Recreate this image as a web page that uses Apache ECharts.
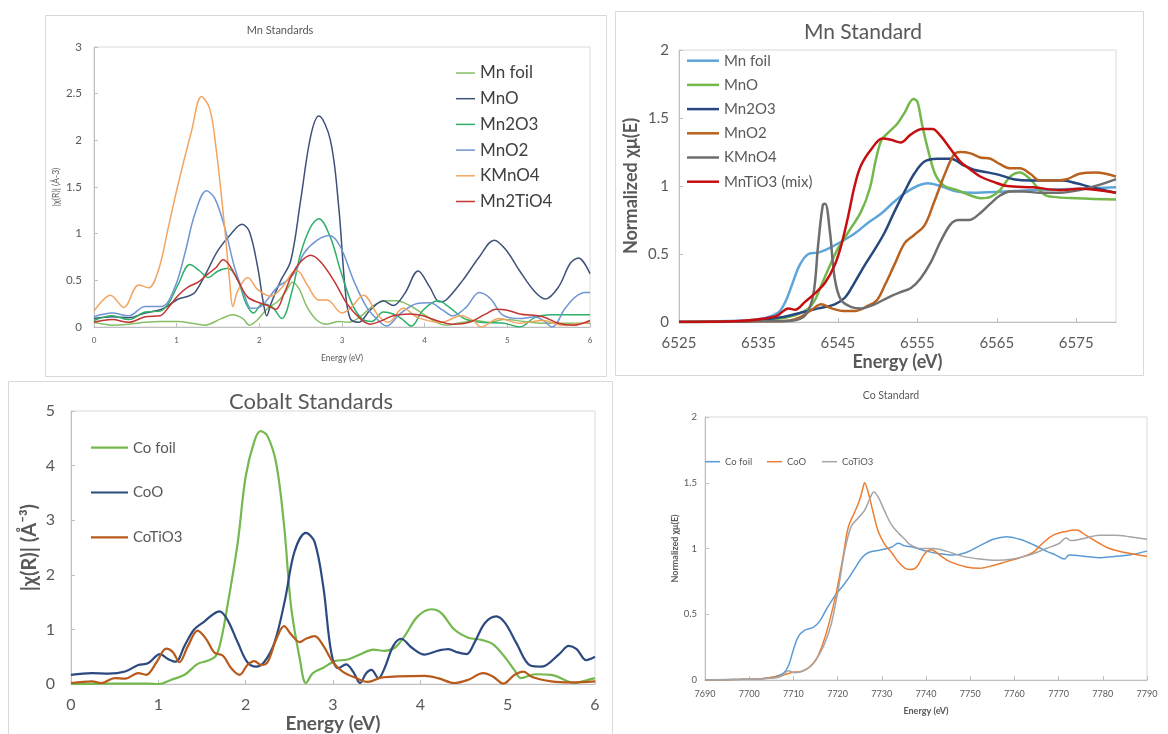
<!DOCTYPE html>
<html>
<head>
<meta charset="utf-8">
<script src="https://cdn.jsdelivr.net/npm/echarts@6/dist/echarts.min.js"></script>
<style>
  html, body { margin: 0; padding: 0; background: #ffffff; }
  #chart { width: 1168px; height: 734px; }
</style>
</head>
<body>
<div id="chart"></div>
<script>
// ---- |chi(R)| of the Mn standards (energy in eV) ----
const mnFoilR = [[0,0.05],[0.22,0.02],[0.42,0.03],[0.62,0.05],[0.8,0.06],[1.02,0.06],[1.18,0.04],[1.34,0.02],[1.54,0.09],[1.68,0.13],[1.8,0.09],[1.88,0.02],[1.98,0.08],[2.1,0.2],[2.22,0.27],[2.32,0.38],[2.4,0.48],[2.48,0.41],[2.58,0.21],[2.7,0.07],[2.82,0.03],[2.96,0.06],[3.08,0.05],[3.22,0.11],[3.38,0.23],[3.54,0.28],[3.66,0.28],[3.82,0.23],[3.98,0.14],[4.14,0.05],[4.26,0.02],[4.46,0.05],[4.62,0.07],[4.78,0.05],[4.96,0.08],[5.2,0.06],[5.43,0.04],[5.7,0.04],[6,0.04]];
const mnOR = [[0,0.09],[0.22,0.11],[0.42,0.1],[0.62,0.15],[0.82,0.19],[1.02,0.3],[1.14,0.33],[1.22,0.37],[1.34,0.55],[1.5,0.82],[1.66,1.0],[1.79,1.1],[1.88,1.02],[1.98,0.64],[2.05,0.25],[2.09,0.12],[2.14,0.25],[2.26,0.5],[2.38,0.71],[2.5,1.36],[2.62,2.04],[2.72,2.26],[2.86,2.0],[2.96,1.29],[3.04,0.39],[3.1,0.09],[3.2,0.05],[3.34,0.18],[3.5,0.28],[3.62,0.23],[3.76,0.36],[3.92,0.6],[4.06,0.43],[4.18,0.27],[4.26,0.29],[4.46,0.5],[4.66,0.75],[4.84,0.93],[4.98,0.83],[5.15,0.6],[5.33,0.38],[5.46,0.3],[5.62,0.43],[5.76,0.68],[5.86,0.74],[6,0.57]];
const mn2O3R = [[0,0.07],[0.22,0.12],[0.42,0.08],[0.62,0.16],[0.8,0.17],[0.9,0.25],[1.02,0.46],[1.16,0.67],[1.28,0.6],[1.38,0.53],[1.5,0.6],[1.62,0.63],[1.74,0.5],[1.84,0.25],[1.93,0.15],[2.04,0.25],[2.16,0.21],[2.27,0.09],[2.4,0.4],[2.5,0.79],[2.62,1.07],[2.72,1.16],[2.86,0.96],[2.98,0.61],[3.12,0.25],[3.24,0.09],[3.36,0.06],[3.5,0.16],[3.62,0.14],[3.72,0.09],[3.84,0.01],[3.98,0.18],[4.16,0.28],[4.3,0.21],[4.48,0.09],[4.68,0.05],[4.96,0.04],[5.15,0.0],[5.33,0.1],[5.52,0.13],[6,0.13]];
const mnO2R = [[0,0.11],[0.22,0.15],[0.42,0.12],[0.62,0.22],[0.82,0.22],[0.98,0.43],[1.1,0.79],[1.22,1.21],[1.36,1.46],[1.46,1.38],[1.58,1.07],[1.7,0.64],[1.82,0.34],[1.9,0.2],[2.0,0.21],[2.12,0.32],[2.22,0.43],[2.34,0.5],[2.44,0.6],[2.54,0.79],[2.7,0.93],[2.85,0.98],[2.98,0.86],[3.14,0.5],[3.3,0.21],[3.44,0.07],[3.54,0.01],[3.7,0.14],[3.9,0.25],[4.06,0.26],[4.22,0.18],[4.34,0.12],[4.5,0.21],[4.66,0.37],[4.8,0.3],[4.94,0.13],[5.15,0.09],[5.33,0.11],[5.45,0.06],[5.54,0.0],[5.7,0.2],[5.82,0.32],[5.94,0.37],[6,0.37]];
const kMnO4R = [[0,0.17],[0.2,0.34],[0.36,0.21],[0.54,0.45],[0.66,0.42],[0.78,0.61],[0.9,1.07],[1.02,1.54],[1.18,2.1],[1.3,2.47],[1.4,2.34],[1.48,1.89],[1.58,1.07],[1.64,0.5],[1.68,0.22],[1.74,0.39],[1.86,0.53],[1.98,0.4],[2.14,0.33],[2.26,0.41],[2.4,0.58],[2.46,0.6],[2.58,0.45],[2.72,0.29],[2.82,0.29],[3.0,0.15],[3.1,0.2],[3.26,0.34],[3.44,0.12],[3.56,0.05],[3.74,0.2],[3.92,0.1],[4.2,0.05],[4.44,0.12],[4.6,0.06],[4.68,0.0],[4.9,0.09],[5.15,0.04],[5.43,0.07],[5.66,0.02],[6,0.05]];
const mn2TiO4R = [[0,0.05],[0.22,0.08],[0.42,0.05],[0.62,0.11],[0.8,0.12],[0.9,0.21],[1.02,0.34],[1.14,0.43],[1.26,0.48],[1.38,0.57],[1.48,0.64],[1.56,0.72],[1.64,0.66],[1.74,0.5],[1.86,0.32],[2.0,0.26],[2.1,0.23],[2.2,0.19],[2.3,0.36],[2.4,0.57],[2.5,0.7],[2.62,0.77],[2.74,0.7],[2.9,0.5],[3.06,0.25],[3.22,0.09],[3.34,0.03],[3.46,0.06],[3.62,0.12],[3.82,0.14],[3.98,0.12],[4.14,0.07],[4.34,0.03],[4.54,0.05],[4.74,0.14],[4.86,0.19],[5.0,0.18],[5.15,0.14],[5.43,0.11],[5.62,0.04],[5.8,0.02],[6,0.07]];

// ---- normalized absorption of the Mn standards ----
const mnFoilE = [[6525,0],[6530,0.005],[6535,0.02],[6537.5,0.07],[6538.4,0.15],[6539.2,0.27],[6540.2,0.42],[6541.3,0.5],[6542.5,0.51],[6543.8,0.54],[6545.4,0.59],[6547.1,0.65],[6548.8,0.73],[6550.5,0.8],[6552,0.88],[6553.5,0.95],[6555,1.0],[6556.3,1.02],[6557.9,1.0],[6560,0.96],[6562,0.95],[6566,0.96],[6570,0.97],[6575,0.98],[6580,0.99]];
const mnOE = [[6525,0],[6532,0.005],[6537,0.02],[6539.6,0.05],[6541.3,0.1],[6542.1,0.16],[6542.9,0.27],[6543.8,0.39],[6545,0.54],[6546.3,0.66],[6547.9,0.81],[6549,0.98],[6549.8,1.2],[6550.5,1.34],[6551.3,1.39],[6552.5,1.46],[6553.4,1.54],[6554.5,1.64],[6555,1.62],[6555.6,1.45],[6556.5,1.23],[6557.3,1.08],[6558.4,1.0],[6560,0.97],[6561.7,0.93],[6563,0.91],[6564.2,0.92],[6565.4,0.97],[6566.7,1.07],[6567.9,1.1],[6569.2,1.05],[6570.9,0.94],[6572.1,0.92],[6575,0.91],[6580,0.9]];
const mn2O3E = [[6525,0],[6533,0.005],[6538.4,0.04],[6540.4,0.07],[6542.5,0.1],[6544.6,0.13],[6545.9,0.18],[6547.1,0.29],[6548.4,0.42],[6549.6,0.53],[6550.9,0.66],[6552.1,0.81],[6553.4,0.96],[6554.6,1.09],[6555.9,1.18],[6557.5,1.2],[6559.2,1.2],[6560.9,1.15],[6562.1,1.12],[6563.8,1.1],[6565.4,1.08],[6567.1,1.05],[6569.2,1.04],[6573.4,1.04],[6575,1.02],[6577,0.99],[6580,0.95]];
const mnO2E = [[6525,0],[6535,0.005],[6538.8,0.01],[6540.4,0.04],[6541.7,0.09],[6542.9,0.13],[6544.2,0.1],[6545.9,0.08],[6547.1,0.08],[6548.8,0.12],[6549.9,0.16],[6550.9,0.27],[6552.1,0.42],[6553.4,0.58],[6554.6,0.64],[6555.9,0.71],[6557.1,0.88],[6558.4,1.08],[6559.6,1.23],[6560.4,1.25],[6561.7,1.24],[6562.9,1.21],[6564.2,1.2],[6565.4,1.16],[6566.7,1.13],[6567.9,1.13],[6569.2,1.09],[6570.4,1.04],[6572.1,1.04],[6573.8,1.05],[6575.4,1.09],[6577.5,1.1],[6580,1.07]];
const kMnO4E = [[6525,0],[6535,0.005],[6539.2,0.01],[6540.9,0.05],[6541.9,0.2],[6542.5,0.56],[6543.1,0.86],[6543.4,0.87],[6544,0.66],[6544.6,0.32],[6545.4,0.16],[6546.7,0.11],[6547.9,0.1],[6549.6,0.13],[6551.3,0.18],[6552.9,0.22],[6554.2,0.25],[6555.4,0.32],[6556.7,0.44],[6557.9,0.59],[6559.2,0.72],[6560.2,0.75],[6561.5,0.75],[6562.9,0.8],[6564.2,0.87],[6565.4,0.93],[6566.7,0.96],[6568.4,0.96],[6570.4,0.95],[6572.9,0.95],[6575.4,0.97],[6578,1.01],[6580,1.05]];
const mnTiO3E = [[6525,0],[6532,0.005],[6537.1,0.04],[6538.8,0.1],[6539.6,0.09],[6540.9,0.15],[6542.1,0.21],[6543.4,0.29],[6544.6,0.42],[6545.4,0.56],[6546.3,0.78],[6547.1,1.0],[6547.9,1.15],[6549.2,1.27],[6550.6,1.35],[6551.7,1.34],[6552.9,1.32],[6554.2,1.38],[6555.6,1.42],[6556.9,1.42],[6557.9,1.37],[6559.2,1.27],[6560.4,1.18],[6561.7,1.12],[6562.9,1.07],[6564.6,1.03],[6566.3,1.0],[6569.6,0.99],[6572.9,0.97],[6575.4,0.98],[6580,0.95]];

// ---- |chi(R)| of the Co standards ----
const coFoilR = [[0,0],[0.43,0.01],[0.88,0.01],[1.0,0],[1.15,0.08],[1.3,0.17],[1.45,0.37],[1.57,0.43],[1.66,0.52],[1.72,0.82],[1.79,1.42],[1.91,2.6],[2.0,3.8],[2.1,4.45],[2.17,4.63],[2.25,4.54],[2.35,4.04],[2.44,2.9],[2.52,1.42],[2.62,0.46],[2.69,0.02],[2.77,0.2],[2.89,0.3],[3.02,0.42],[3.17,0.45],[3.32,0.55],[3.46,0.63],[3.59,0.61],[3.71,0.67],[3.82,0.88],[3.97,1.24],[4.13,1.37],[4.24,1.3],[4.39,1.0],[4.55,0.85],[4.7,0.81],[4.83,0.73],[4.97,0.49],[5.08,0.25],[5.15,0.11],[5.32,0.18],[5.5,0.17],[5.77,0.02],[5.9,0.07],[6,0.11]];
const coOR = [[0,0.17],[0.24,0.2],[0.43,0.19],[0.62,0.23],[0.77,0.35],[0.88,0.38],[1.02,0.55],[1.11,0.46],[1.2,0.41],[1.3,0.7],[1.41,1.0],[1.53,1.15],[1.62,1.27],[1.7,1.33],[1.79,1.18],[1.91,0.76],[2.02,0.4],[2.12,0.32],[2.21,0.4],[2.33,0.76],[2.45,1.54],[2.56,2.43],[2.69,2.77],[2.79,2.6],[2.89,1.77],[2.98,0.58],[3.06,0.29],[3.15,0.36],[3.23,0.23],[3.31,0.02],[3.38,0.2],[3.44,0.26],[3.52,0.11],[3.59,0.29],[3.69,0.7],[3.78,0.83],[3.9,0.67],[4.05,0.54],[4.2,0.61],[4.32,0.64],[4.43,0.58],[4.53,0.55],[4.62,0.76],[4.74,1.12],[4.87,1.24],[4.97,1.12],[5.1,0.75],[5.26,0.34],[5.39,0.32],[5.59,0.55],[5.7,0.7],[5.79,0.64],[5.9,0.44],[6,0.5]];
const coTiO3R = [[0,0.02],[0.24,0.05],[0.35,0.02],[0.5,0.11],[0.62,0.1],[0.77,0.2],[0.86,0.17],[0.98,0.4],[1.09,0.65],[1.17,0.58],[1.24,0.4],[1.34,0.7],[1.45,0.98],[1.55,0.82],[1.64,0.58],[1.74,0.52],[1.83,0.3],[1.93,0.17],[2.02,0.35],[2.1,0.42],[2.18,0.35],[2.25,0.4],[2.35,0.82],[2.44,1.06],[2.52,0.91],[2.62,0.77],[2.69,0.83],[2.79,0.88],[2.89,0.7],[3.0,0.4],[3.11,0.23],[3.25,0.12],[3.4,0.04],[3.55,0.12],[3.74,0.14],[4.05,0.15],[4.2,0.11],[4.39,0.02],[4.55,0.08],[4.72,0.2],[4.83,0.14],[4.95,0.01],[5.08,0.17],[5.18,0.23],[5.28,0.13],[5.5,0.05],[5.72,0.03],[6,0.05]];

// ---- normalized absorption of the Co standards ----
const coFoilE = [[7690,0],[7698,0.005],[7702.8,0.01],[7705.8,0.025],[7707.7,0.05],[7708.9,0.11],[7710,0.23],[7711.1,0.33],[7712.6,0.38],[7714.5,0.4],[7716,0.45],[7717.5,0.54],[7719.4,0.64],[7721.3,0.72],[7722.8,0.79],[7724.3,0.87],[7725.5,0.93],[7727,0.97],[7729.9,0.99],[7732.2,1.01],[7733.7,1.04],[7735.2,1.02],[7737.1,1.01],[7740.1,0.98],[7743.1,0.96],[7746.1,0.95],[7749.1,0.97],[7752.1,1.02],[7755.2,1.07],[7758.2,1.09],[7761.2,1.07],[7764.2,1.03],[7767.2,0.98],[7769.4,0.95],[7771.3,0.92],[7772.4,0.95],[7776.2,0.94],[7779.2,0.93],[7782.6,0.94],[7786,0.95],[7790,0.98]];
const coOE = [[7690,0],[7698,0.005],[7702.8,0.01],[7707,0.03],[7708.9,0.05],[7710.4,0.06],[7711.9,0.065],[7713.7,0.1],[7715.2,0.16],[7716.7,0.28],[7718.2,0.45],[7719.8,0.68],[7721.3,0.95],[7722.4,1.16],[7723.9,1.28],[7725,1.37],[7725.8,1.47],[7726.1,1.5],[7726.9,1.43],[7728,1.28],[7729.2,1.13],[7730.7,1.03],[7732.2,0.97],[7733.7,0.9],[7735.2,0.85],[7736.4,0.84],[7737.9,0.86],[7739.7,0.96],[7741.2,0.99],[7743.1,0.95],[7745.4,0.9],[7749.1,0.86],[7752.1,0.85],[7755.2,0.87],[7758.2,0.9],[7761.2,0.93],[7764.2,0.97],[7766.4,1.04],[7768.7,1.1],[7771.7,1.13],[7774,1.14],[7776.2,1.1],[7779.2,1.04],[7781.5,1.0],[7785,0.97],[7790,0.94]];
const coTiO3E = [[7690,0],[7698,0.005],[7703,0.01],[7707,0.025],[7708.9,0.07],[7710.4,0.055],[7712.2,0.07],[7714.1,0.11],[7715.6,0.18],[7717.1,0.28],[7718.6,0.43],[7720.1,0.68],[7721.6,0.98],[7723.1,1.17],[7724.6,1.23],[7726.1,1.29],[7727.3,1.38],[7728.2,1.43],[7729.2,1.39],[7730.7,1.28],[7732.2,1.18],[7733.7,1.12],[7735.2,1.07],[7736.4,1.03],[7738.6,1.0],[7741.6,1.0],[7744.6,0.98],[7748.4,0.94],[7752.1,0.92],[7755.9,0.91],[7759.7,0.92],[7763.4,0.95],[7767.2,1.0],[7770.2,1.04],[7771.7,1.08],[7772.8,1.06],[7776.2,1.08],[7779.2,1.1],[7782.6,1.1],[7786,1.09],[7790,1.07]];

// Series names get a panel key after '@' so equal sample names in two panels stay separate
const FONT = 'Lato';
const GREY = '#595959';

const panels = [
  { key: 'mR', width: 1.5, items: [
    ['Mn foil', mnFoilR, '#86BF66'], ['MnO', mnOR, '#3F5279'], ['Mn2O3', mn2O3R, '#2FB06A'],
    ['MnO2', mnO2R, '#6F95D3'], ['KMnO4', kMnO4R, '#F2A461'], ['Mn2TiO4', mn2TiO4R, '#C23532'] ] },
  { key: 'mE', width: 2.5, items: [
    ['Mn foil', mnFoilE, '#5EA5DA'], ['MnO', mnOE, '#74B84C'], ['Mn2O3', mn2O3E, '#27477F'],
    ['MnO2', mnO2E, '#B9621F'], ['KMnO4', kMnO4E, '#6E6E6E'], ['MnTiO3 (mix)', mnTiO3E, '#C50F10'] ] },
  { key: 'cR', width: 2.2, items: [
    ['Co foil', coFoilR, '#74B84F'], ['CoO', coOR, '#2C4A80'], ['CoTiO3', coTiO3R, '#B85A1C'] ] },
  { key: 'cE', width: 1.5, items: [
    ['Co foil', coFoilE, '#5B9BD5'], ['CoO', coOE, '#ED7D31'], ['CoTiO3', coTiO3E, '#A5A5A5'] ] }
];

const series = [];
panels.forEach((p, i) => {
  p.items.forEach(([name, data, color]) => {
    series.push({
      type: 'line', name: name + '@' + p.key, xAxisIndex: i, yAxisIndex: i,
      data: data, smooth: 0.35, symbol: 'none', color: color,
      lineStyle: { width: p.width, color: color }
    });
  });
});
const names = i => panels[i].items.map(it => it[0] + '@' + panels[i].key);
const strip = n => n.split('@')[0];
const plain = v => String(v);

const axisBase = (extra) => Object.assign({
  type: 'value', nameLocation: 'middle',
  axisLine: { show: true, lineStyle: { color: '#BFBFBF', width: 1 } },
  axisTick: { show: true, inside: true, length: 4, lineStyle: { color: '#BFBFBF' } },
  splitLine: { show: false }
}, extra);

const label = (size, margin, more) => Object.assign({ fontFamily: FONT, fontSize: size, color: GREY, margin: margin, formatter: plain }, more || {});
const nameStyle = (size, bold) => ({ fontFamily: FONT, fontSize: size, color: GREY, fontWeight: bold ? 'bold' : 'normal' });

// legend entries drawn as a short line segment
const legendBase = (extra, lineH) => Object.assign({
  padding: 0, icon: 'rect', itemHeight: lineH, selectedMode: false, formatter: strip
}, extra);

const option = {
  animation: false,
  backgroundColor: '#ffffff',
  graphic: [
    { type: 'rect', silent: true, z: -10, shape: { x: 45.5, y: 15.5, width: 561, height: 361 }, style: { fill: 'none', stroke: '#D9D9D9', lineWidth: 1 } },
    { type: 'rect', silent: true, z: -10, shape: { x: 615.5, y: 11.5, width: 528, height: 364 }, style: { fill: 'none', stroke: '#D9D9D9', lineWidth: 1 } },
    { type: 'rect', silent: true, z: -10, shape: { x: 8.5, y: 381.5, width: 604, height: 360 }, style: { fill: 'none', stroke: '#D9D9D9', lineWidth: 1 } }
  ],
  title: [
    { text: 'Mn Standards', left: 280, top: 25, textAlign: 'center', padding: 0, textStyle: { fontFamily: FONT, fontSize: 11, fontWeight: 'normal', color: GREY } },
    { text: 'Mn Standard', left: 863, top: 22, textAlign: 'center', padding: 0, textStyle: { fontFamily: FONT, fontSize: 21, fontWeight: 'normal', color: GREY } },
    { text: 'Cobalt Standards', left: 311, top: 391, textAlign: 'center', padding: 0, textStyle: { fontFamily: FONT, fontSize: 22, fontWeight: 'normal', color: GREY } },
    { text: 'Co Standard', left: 891, top: 390, textAlign: 'center', padding: 0, textStyle: { fontFamily: FONT, fontSize: 10.5, fontWeight: 'normal', color: GREY } }
  ],
  legend: [
    legendBase({ orient: 'vertical', left: 456, top: 63, itemWidth: 19, itemGap: 5.7, data: names(0),
      textStyle: { fontFamily: FONT, fontSize: 17, lineHeight: 20, color: '#404040' } }, 1.5),
    legendBase({ orient: 'vertical', left: 687, top: 51.7, itemWidth: 32, itemGap: 6.2, data: names(1),
      textStyle: { fontFamily: FONT, fontSize: 15, lineHeight: 18, color: GREY } }, 2.5),
    legendBase({ orient: 'vertical', left: 91, top: 438.7, itemWidth: 37, itemGap: 26.8, data: names(2),
      textStyle: { fontFamily: FONT, fontSize: 15, lineHeight: 18, color: GREY } }, 2.2),
    legendBase({ orient: 'horizontal', left: 705, top: 455.7, itemWidth: 15, data: [names(3)[0]],
      textStyle: { fontFamily: FONT, fontSize: 9.5, lineHeight: 12, color: GREY } }, 1.5),
    legendBase({ orient: 'horizontal', left: 767, top: 455.7, itemWidth: 15, data: [names(3)[1]],
      textStyle: { fontFamily: FONT, fontSize: 9.5, lineHeight: 12, color: GREY } }, 1.5),
    legendBase({ orient: 'horizontal', left: 822, top: 455.7, itemWidth: 15, data: [names(3)[2]],
      textStyle: { fontFamily: FONT, fontSize: 9.5, lineHeight: 12, color: GREY } }, 1.5)
  ],
  grid: [
    { left: 94, top: 47, width: 496, height: 280, show: true, borderColor: '#D9D9D9', borderWidth: 1, backgroundColor: 'transparent' },
    { left: 679, top: 50, width: 437, height: 272, show: true, borderColor: '#D9D9D9', borderWidth: 1, backgroundColor: 'transparent' },
    { left: 71, top: 411, width: 524, height: 280, show: true, borderColor: '#D9D9D9', borderWidth: 1, backgroundColor: 'transparent' },
    { left: 705, top: 417, width: 442, height: 263, show: true, borderColor: '#D9D9D9', borderWidth: 1, backgroundColor: 'transparent' }
  ],
  xAxis: [
    axisBase({ gridIndex: 0, min: 0, max: 6, interval: 1, axisLabel: label(8, 9),
      name: 'Energy (eV)', nameGap: 27, nameTextStyle: nameStyle(8.5, false) }),
    axisBase({ gridIndex: 1, min: 6525, max: 6580, interval: 10, axisLabel: label(15, 14, { showMaxLabel: false }),
      name: 'Energy (eV)', nameGap: 31, nameTextStyle: nameStyle(18, true) }),
    axisBase({ gridIndex: 2, min: 0, max: 6, interval: 1, axisLabel: label(16, 13),
      name: 'Energy (eV)', nameGap: 26, nameTextStyle: nameStyle(19, true) }),
    axisBase({ gridIndex: 3, min: 7690, max: 7790, interval: 10, axisLabel: label(9, 10),
      name: 'Energy (eV)', nameGap: 27, nameTextStyle: nameStyle(9, true) })
  ],
  yAxis: [
    axisBase({ gridIndex: 0, min: 0, max: 3, interval: 0.5, axisLabel: label(11.5, 12),
      name: '|χ(R)| (Å-3)', nameGap: 33, nameTextStyle: nameStyle(8.5, false) }),
    axisBase({ gridIndex: 1, min: 0, max: 2, interval: 0.5, axisLabel: label(15, 10),
      name: 'Normalized χμ(E)', nameGap: 39, nameTextStyle: nameStyle(18, true) }),
    axisBase({ gridIndex: 2, min: 0, max: 5, interval: 1, axisLabel: label(16, 16),
      name: '|χ(R)| (Å⁻³)', nameGap: 31, nameTextStyle: nameStyle(20, true) }),
    axisBase({ gridIndex: 3, min: 0, max: 2, interval: 0.5, axisLabel: label(9.5, 8),
      name: 'Normalized χμ(E)', nameGap: 25, nameTextStyle: nameStyle(9, true) })
  ],
  series: series
};

const chart = echarts.init(document.getElementById('chart'), null, { renderer: 'canvas' });
chart.setOption(option);
</script>
</body>
</html>
